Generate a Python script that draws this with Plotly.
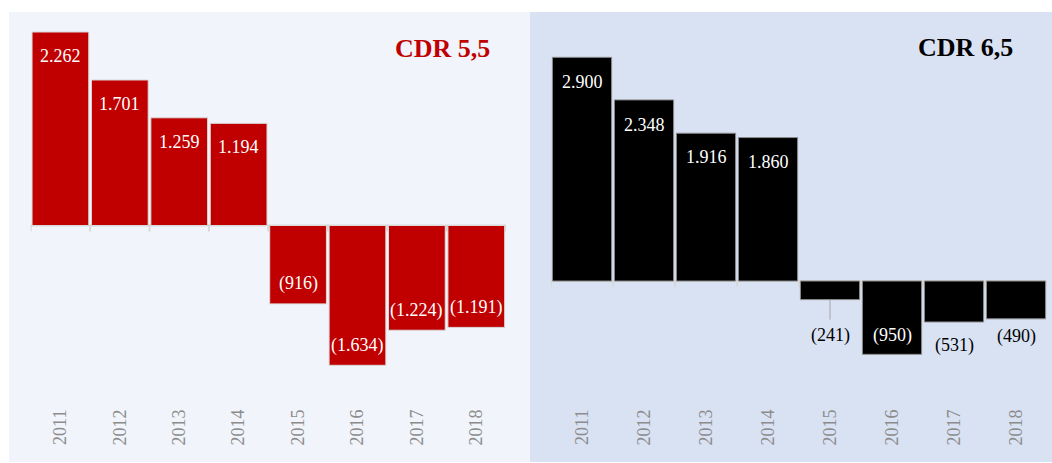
import plotly.graph_objects as go

# Annual values (thousands) for the two scenarios
years = ["2011", "2012", "2013", "2014", "2015", "2016", "2017", "2018"]
cdr_55 = [2262, 1701, 1259, 1194, -916, -1634, -1224, -1191]
cdr_65 = [2900, 2348, 1916, 1860, -241, -950, -531, -490]

W, H = 1052, 463
SERIF = "Liberation Serif"


def fmt(v):
    s = f"{abs(v):,}".replace(",", ".")
    return f"({s})" if v < 0 else s


# label placement: pixel offset from bar end and text colour
shift_55 = [-24, -24, -24, -24, 20, 20, 20, 20]
color_55 = ["white"] * 8
shift_65 = [-25, -25, -24, -24, -36, 19, -24, -18]
color_65 = ["white", "white", "white", "white", "black", "white", "black", "black"]

n = len(years)
x_range = [-0.5, n - 0.5]
y_dom = [58 / H, 1.0]
range_55 = [-2098, 2636]
range_65 = [-1607, 3643]
xdom_55 = [30.7 / W, 506 / W]
xdom_65 = [551 / W, 1047 / W]

fig = go.Figure()
fig.add_trace(go.Bar(
    x=years, y=cdr_55, xaxis="x", yaxis="y",
    marker=dict(color="#C00000", line=dict(color="#D9D9D9", width=1)),
    hoverinfo="skip"))
fig.add_trace(go.Bar(
    x=years, y=cdr_65, xaxis="x2", yaxis="y2",
    marker=dict(color="#000000", line=dict(color="#8C8C8C", width=1)),
    hoverinfo="skip"))

annotations = []
for i, (v, s, c) in enumerate(zip(cdr_55, shift_55, color_55)):
    annotations.append(dict(x=i, y=v, xref="x", yref="y", text=fmt(v),
                            showarrow=False, yshift=s,
                            font=dict(family=SERIF, size=18, color=c)))
for i, (v, s, c) in enumerate(zip(cdr_65, shift_65, color_65)):
    if v == -241:
        annotations.append(dict(x=i, y=v, xref="x2", yref="y2", text=fmt(v),
                                showarrow=True, arrowhead=0, arrowwidth=1,
                                arrowcolor="#A6A6A6", ax=0, ay=-s,
                                startstandoff=4,
                                font=dict(family=SERIF, size=18, color=c)))
    else:
        annotations.append(dict(x=i, y=v, xref="x2", yref="y2", text=fmt(v),
                                showarrow=False, yshift=s,
                                font=dict(family=SERIF, size=18, color=c)))

annotations.append(dict(x=442.5 / W, y=1 - 48.5 / H, xref="paper", yref="paper",
                        text="<b>CDR 5,5</b>", showarrow=False,
                        xanchor="center", yanchor="middle",
                        font=dict(family=SERIF, size=26, color="#C00000")))
annotations.append(dict(x=965.5 / W, y=1 - 47 / H, xref="paper", yref="paper",
                        text="<b>CDR 6,5</b>", showarrow=False,
                        xanchor="center", yanchor="middle",
                        font=dict(family=SERIF, size=26, color="#000000")))

shapes = [
    dict(type="rect", xref="paper", yref="paper", layer="below",
         x0=9 / W, x1=530 / W, y0=1 / H, y1=1 - 12 / H,
         fillcolor="#F1F4FA", line=dict(width=0)),
    dict(type="rect", xref="paper", yref="paper", layer="below",
         x0=530 / W, x1=1.0, y0=1 / H, y1=1 - 12 / H,
         fillcolor="#D9E2F3", line=dict(width=0)),
]

# zero baseline with small ticks between categories
AXIS_GREY = "#D9D9D9"
for xr, yr in (("x", "y"), ("x2", "y2")):
    shapes.append(dict(type="line", xref=xr, yref=yr, layer="below",
                       x0=-0.5, x1=n - 0.5, y0=0, y1=0,
                       line=dict(color=AXIS_GREY, width=2)))
    for i in range(n + 1):
        shapes.append(dict(type="line", xref=xr, yref=yr, layer="below",
                           ysizemode="pixel", yanchor=0, y0=0, y1=-6,
                           x0=i - 0.5, x1=i - 0.5,
                           line=dict(color=AXIS_GREY, width=2)))

tick_font = dict(family=SERIF, size=18, color="#8C8C8C")

fig.update_layout(
    width=W, height=H,
    margin=dict(l=0, r=0, t=0, b=0),
    paper_bgcolor="white", plot_bgcolor="rgba(0,0,0,0)",
    showlegend=False, bargap=0.045,
    xaxis=dict(domain=xdom_55, anchor="y", type="category", range=x_range,
               tickangle=-90, tickfont=tick_font, ticks="",
               showline=False, showgrid=False, zeroline=False),
    yaxis=dict(domain=y_dom, anchor="x", range=range_55, visible=False),
    xaxis2=dict(domain=xdom_65, anchor="y2", type="category", range=x_range,
                tickangle=-90, tickfont=tick_font, ticks="",
                showline=False, showgrid=False, zeroline=False),
    yaxis2=dict(domain=y_dom, anchor="x2", range=range_65, visible=False),
    annotations=annotations,
    shapes=shapes,
)

fig.write_html("out.html")
